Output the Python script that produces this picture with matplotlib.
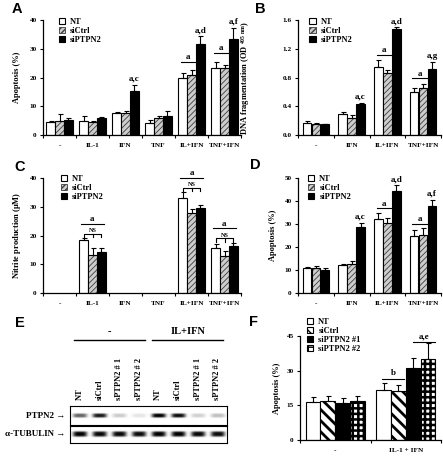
import numpy as np
import matplotlib
matplotlib.use('Agg')
import matplotlib.pyplot as plt
from matplotlib.patches import Patch

plt.rcParams['font.family'] = ['Liberation Serif', 'DejaVu Serif']
plt.rcParams['font.weight'] = 'bold'
plt.rcParams['mathtext.fontset'] = 'custom'
plt.rcParams['mathtext.rm'] = 'Liberation Serif:bold'
plt.rcParams['mathtext.it'] = 'Liberation Serif:bold'
plt.rcParams['axes.linewidth'] = 0.9

W, H = 443, 458

# ---- data ----
a_groups = ['-', 'IL-1', 'IFN', 'TNF', 'IL+IFN', 'TNF+IFN']
a_nt = [4.5, 4.8, 7.8, 4.2, 20.0, 23.3]
a_nt_err = [0.3, 1.7, 0.2, 1.0, 1.5, 2.2]
a_ctrl = [4.9, 4.5, 7.8, 5.8, 21.0, 23.3]
a_ctrl_err = [2.3, 0.2, 0.6, 0.9, 1.5, 1.2]
a_kd = [5.3, 5.8, 15.2, 6.7, 31.7, 33.5]
a_kd_err = [0.6, 0.4, 2.3, 1.5, 2.7, 3.8]

b_groups = ['-', 'IFN', 'IL+IFN', 'TNF+IFN']
b_nt = [0.17, 0.29, 0.94, 0.60]
b_nt_err = [0.03, 0.03, 0.10, 0.05]
b_ctrl = [0.15, 0.23, 0.86, 0.66]
b_ctrl_err = [0.02, 0.05, 0.04, 0.05]
b_kd = [0.15, 0.43, 1.47, 0.92]
b_kd_err = [0.01, 0.02, 0.03, 0.09]

c_groups = ['-', 'IL-1', 'IFN', 'TNF', 'IL+IFN', 'TNF+IFN']
c_nt = [np.nan, 18.3, np.nan, np.nan, 33.0, 15.5]
c_nt_err = [np.nan, 0.7, np.nan, np.nan, 2.0, 1.4]
c_ctrl = [np.nan, 13.2, np.nan, np.nan, 27.8, 13.0]
c_ctrl_err = [np.nan, 2.3, np.nan, np.nan, 1.4, 1.6]
c_kd = [np.nan, 14.3, np.nan, np.nan, 29.7, 16.5]
c_kd_err = [np.nan, 1.5, np.nan, np.nan, 1.0, 0.9]

d_groups = ['-', 'IFN', 'IL+IFN', 'TNF+IFN']
d_nt = [10.7, 12.3, 32.0, 25.0]
d_nt_err = [0.7, 0.3, 2.8, 2.5]
d_ctrl = [10.7, 12.4, 30.6, 25.4]
d_ctrl_err = [1.1, 1.3, 2.2, 2.7]
d_kd = [10.0, 28.7, 44.5, 37.9]
d_kd_err = [1.0, 1.8, 2.3, 2.6]

f_groups = ['-', 'IL-1 + IFN']
f_nt = [16.5, 21.8]
f_nt_err = [2.3, 3.0]
f_ctrl = [17.0, 21.0]
f_ctrl_err = [2.2, 3.0]
f_kd1 = [16.0, 31.3]
f_kd1_err = [2.2, 4.2]
f_kd2 = [17.0, 35.0]
f_kd2_err = [2.2, 7.0]

blot_lanes = ['NT', 'siCtrl', 'sPTPN2 # 1', 'sPTPN2 # 2',
              'NT', 'siCtrl', 'sPTPN2 # 1', 'sPTPN2 # 2']
blot_treat = ['-', 'IL+IFN']
ptpn2_band = [0.6, 0.9, 0.2, 0.1, 1.0, 0.95, 0.18, 0.25]
tubulin_band = [1.0, 0.97, 0.97, 0.95, 1.0, 1.0, 0.97, 0.95]

# annotations: (group, kind, text)
a_marks = [(2, 'top', 'a,c'), (4, 'pair', 'a'), (4, 'top', 'a,d'),
           (5, 'pair', 'a'), (5, 'top', 'a,f')]
b_marks = [(1, 'top', 'a,c'), (2, 'pair', 'a'), (2, 'top', 'a,d'),
           (3, 'pair', 'a'), (3, 'top', 'a,g')]
c_marks = [(1, 'ns', 'a'), (4, 'ns', 'a'), (5, 'ns', 'a')]
d_marks = [(1, 'top', 'a,c'), (2, 'pair', 'a'), (2, 'top', 'a,d'),
           (3, 'pair', 'a'), (3, 'top', 'a,f')]

GRAYF, GRAYH = '#cdcdcd', '#3c3c3c'

fig = plt.figure(figsize=(W / 100, H / 100), dpi=100)


def px_axes(x0, y0, x1, y1):
    return fig.add_axes([x0 / W, 1 - y1 / H, (x1 - x0) / W, (y1 - y0) / H])


def draw_bar(ax, x, v, w, style):
    if style == 'white':
        ax.bar(x, v, w, facecolor='white', edgecolor='k', linewidth=0.8, zorder=2)
    elif style == 'black':
        ax.bar(x, v, w, facecolor='k', edgecolor='k', linewidth=0.8, zorder=2)
    else:
        if style == 'gray':
            fc, hc, hatch, hlw = GRAYF, GRAYH, '//////', 0.6
        elif style == 'diag':
            fc, hc, hatch, hlw = 'white', 'k', '\\\\\\', 2.0
        else:
            fc, hc, hatch, hlw = 'white', 'k', '+++', 1.8
        bars = ax.bar(x, v, w, facecolor=fc, edgecolor=hc, hatch=hatch,
                      linewidth=0, zorder=2)
        for b in bars:
            if hasattr(b, 'set_hatch_linewidth'):
                b.set_hatch_linewidth(hlw)
        ax.bar(x, v, w, fill=False, edgecolor='k', linewidth=0.8, zorder=3)


def bar_panel(box, groups, series, styles, width, offsets, ylim, yticks, yfmt):
    ax = px_axes(*box)
    n = len(groups)
    centers = np.arange(n) + 0.5
    tops = []
    for (v, e), st, off in zip(series, styles, offsets):
        v = np.asarray(v, float)
        e = np.asarray(e, float)
        ok = ~np.isnan(v)
        x = centers + off
        draw_bar(ax, x[ok], v[ok], width, st)
        ax.errorbar(x[ok], v[ok], yerr=[np.zeros(ok.sum()), e[ok]], fmt='none',
                    ecolor='k', elinewidth=0.8, capsize=1.8, capthick=0.8, zorder=4)
        tops.append(v + e)
    ax.set_xlim(0, n)
    ax.set_ylim(*ylim)
    ax.set_yticks(yticks)
    ax.set_yticklabels([yfmt.format(t) for t in yticks])
    ax.set_xticks(np.arange(n + 1))
    ax.set_xticklabels([])
    ax.set_xticks(centers, minor=True)
    ax.set_xticklabels(groups, minor=True)
    ax.tick_params(axis='x', which='minor', length=0, pad=6, labelsize=5.2)
    ax.tick_params(axis='x', which='major', length=2.5, width=0.8)
    ax.tick_params(axis='y', length=2.5, width=0.8, pad=2, labelsize=5.2)
    ax.spines['top'].set_visible(False)
    ax.spines['right'].set_visible(False)
    return ax, centers, np.array(tops)


def annotate(ax, centers, offsets, width, tops, marks, dy):
    for g, kind, txt in marks:
        if kind == 'top':
            ax.annotate(txt, (centers[g] + offsets[-1], tops[-1][g]), xytext=(0, 1.5),
                        textcoords='offset points', ha='center', va='bottom',
                        fontsize=6.5, annotation_clip=False)
        elif kind == 'pair':
            y = max(tops[0][g], tops[1][g]) + dy
            x0 = centers[g] + offsets[0] - width * 0.2
            x1 = centers[g] + offsets[1] + width * 0.5
            ax.plot([x0, x1], [y, y], color='k', lw=0.8, clip_on=False)
            ax.annotate(txt, ((x0 + x1) / 2, y), xytext=(0, 0.5),
                        textcoords='offset points', ha='center', va='bottom',
                        fontsize=6.5, annotation_clip=False)
        else:
            xs = [centers[g] + o for o in offsets]
            yb = max(t[g] for t in tops) + dy * 0.45
            ax.plot([xs[0], xs[0], xs[-1], xs[-1]], [yb - dy * 0.35, yb, yb, yb - dy * 0.35],
                    color='k', lw=0.8, clip_on=False)
            ax.plot([xs[1], xs[1]], [yb, yb - dy * 0.35], color='k', lw=0.8, clip_on=False)
            ax.annotate('NS', ((xs[0] + xs[-1]) / 2, yb), xytext=(0, 0.3),
                        textcoords='offset points', ha='center', va='bottom',
                        fontsize=4.5, annotation_clip=False)
            ya = yb + dy * 0.95
            ax.plot([xs[0] - width * 0.3, xs[-1] + width * 0.3], [ya, ya], color='k',
                    lw=0.8, clip_on=False)
            ax.annotate(txt, ((xs[0] + xs[-1]) / 2, ya), xytext=(0, 0.5),
                        textcoords='offset points', ha='center', va='bottom',
                        fontsize=6.5, annotation_clip=False)


def legend(ax, labels, styles, x, y):
    handles = []
    for st in styles:
        if st == 'white':
            handles.append(Patch(facecolor='white', edgecolor='k', lw=0.8))
        elif st == 'black':
            handles.append(Patch(facecolor='k', edgecolor='k', lw=0.8))
        elif st == 'gray':
            handles.append(Patch(facecolor=GRAYF, edgecolor=GRAYH, hatch='//////', lw=0.6))
        elif st == 'diag':
            handles.append(Patch(facecolor='white', edgecolor='k', hatch='\\\\\\', lw=0.8))
        else:
            handles.append(Patch(facecolor='white', edgecolor='k', hatch='+++', lw=0.8))
    ax.legend(handles, labels, loc='upper left', bbox_to_anchor=(x, y), frameon=False,
              handlelength=0.75, handleheight=0.75, handletextpad=0.6, labelspacing=0.12,
              borderpad=0, borderaxespad=0, prop={'size': 6, 'weight': 'bold'})


styles3 = ['white', 'gray', 'black']
labels3 = ['NT', 'siCtrl', 'siPTPN2']

# A
offs_a = [-0.27, 0.0, 0.27]
axA, cA, tA = bar_panel((43, 20, 241, 135), a_groups,
                        [(a_nt, a_nt_err), (a_ctrl, a_ctrl_err), (a_kd, a_kd_err)],
                        styles3, 0.25, offs_a, (0, 40), [0, 10, 20, 30, 40], '{:g}')
annotate(axA, cA, offs_a, 0.25, tA, a_marks, 3.0)
legend(axA, labels3, styles3, 0.08, 1.02)

# B
offs_b = [-0.25, 0.0, 0.25]
axB, cB, tB = bar_panel((298, 20, 441, 135), b_groups,
                        [(b_nt, b_nt_err), (b_ctrl, b_ctrl_err), (b_kd, b_kd_err)],
                        styles3, 0.24, offs_b, (0, 1.6), [0, 0.4, 0.8, 1.2, 1.6], '{:.1f}')
annotate(axB, cB, offs_b, 0.24, tB, b_marks, 0.08)
legend(axB, labels3, styles3, 0.08, 1.02)

# C
axC, cC, tC = bar_panel((43, 178, 241, 293), c_groups,
                        [(c_nt, c_nt_err), (c_ctrl, c_ctrl_err), (c_kd, c_kd_err)],
                        styles3, 0.25, offs_a, (0, 40), [0, 10, 20, 30, 40], '{:g}')
annotate(axC, cC, offs_a, 0.25, tC, c_marks, 3.6)
legend(axC, labels3, styles3, 0.09, 1.03)

# D
axD, cD, tD = bar_panel((298, 178, 441, 293), d_groups,
                        [(d_nt, d_nt_err), (d_ctrl, d_ctrl_err), (d_kd, d_kd_err)],
                        styles3, 0.24, offs_b, (0, 50), [0, 10, 20, 30, 40, 50], '{:g}')
annotate(axD, cD, offs_b, 0.24, tD, d_marks, 2.0)
legend(axD, labels3, styles3, 0.07, 1.03)

# F
offs_f = [-0.315, -0.105, 0.105, 0.315]
styles4 = ['white', 'diag', 'black', 'check']
axF, cF, tF = bar_panel((300, 336, 441, 440), f_groups,
                        [(f_nt, f_nt_err), (f_ctrl, f_ctrl_err), (f_kd1, f_kd1_err),
                         (f_kd2, f_kd2_err)],
                        styles4, 0.21, offs_f, (0, 45), [0, 15, 30, 45], '{:g}')
yb = max(tF[0][1], tF[1][1]) + 1.8
axF.plot([cF[1] + offs_f[0] - 0.02, cF[1] + offs_f[1] + 0.08], [yb, yb], color='k', lw=0.8)
axF.annotate('b', (cF[1] + (offs_f[0] + offs_f[1]) / 2 + 0.03, yb), xytext=(0, 1),
             textcoords='offset points', ha='center', va='bottom', fontsize=6.5)
ya = max(tF[2][1], tF[3][1]) + 0.5
axF.plot([cF[1] + offs_f[2], cF[1] + offs_f[3] + 0.1], [ya, ya], color='k', lw=0.8, clip_on=False)
axF.annotate('a,e', (cF[1] + (offs_f[2] + offs_f[3]) / 2 + 0.05, ya), xytext=(0, 1),
             textcoords='offset points', ha='center', va='bottom', fontsize=6.5,
             annotation_clip=False)
legend(axF, ['NT', 'siCtrl', 'siPTPN2 #1', 'siPTPN2 #2'], styles4, 0.05, 1.17)

# y labels
for (x, y, txt) in [(17, 77.5, 'Apoptosis (%)'),
                    (245, 78, r'DNA fragmentation (OD $^{405\ nm}$)'),
                    (17, 235.5, r'Nitrite production ($\mu$M)'),
                    (273, 235.5, 'Apoptosis (%)'),
                    (277, 388, 'Apoptosis (%)')]:
    fig.text(x / W, 1 - y / H, txt, rotation=90, ha='center', va='center', fontsize=6)

# panel letters
for (x, y, L) in [(17, 9, 'A'), (260, 9, 'B'), (20, 167, 'C'), (255, 165, 'D'),
                  (20, 323, 'E'), (253, 322, 'F')]:
    fig.text(x / W, 1 - y / H, L, ha='center', va='center', fontsize=10.5,
             family='Liberation Sans', weight='bold')


# E: western blot
def blot(box, inten, yw):
    ax = px_axes(*box)
    xs = np.linspace(-0.5, 7.5, 400)
    ys = np.linspace(-1, 1, 60)
    img = np.ones((ys.size, xs.size))
    for i, v in enumerate(inten):
        img -= v * np.exp(-((xs[None, :] - i) / 0.36) ** 4) * np.exp(-(ys[:, None] / yw) ** 4)
    ax.imshow(np.clip(img, 0, 1), cmap='gray', vmin=0, vmax=1, aspect='auto',
              extent=(-0.5, 7.5, -1, 1), interpolation='bilinear')
    ax.set_xticks([])
    ax.set_yticks([])
    for s in ax.spines.values():
        s.set_linewidth(0.8)
    return ax


axP = blot((70, 406, 227, 425), ptpn2_band, 0.22)
axT = blot((70, 426, 227, 443), tubulin_band, 0.3)
for i, lab in enumerate(blot_lanes):
    axP.annotate(lab, (i, 1), xycoords=('data', 'axes fraction'), xytext=(0, 4.5),
                 textcoords='offset points', rotation=90, ha='center', va='bottom',
                 fontsize=6, annotation_clip=False)
for k, t in enumerate(blot_treat):
    xl, xr = 4 * k - 0.3, 4 * k + 3.3
    axP.plot([xl, xr], [4.47, 4.47], transform=axP.get_xaxis_transform(), color='k',
             lw=1.0, clip_on=False)
    axP.text((xl + xr) / 2, 4.9, t, transform=axP.get_xaxis_transform(), ha='center',
             va='center', fontsize=7.5)
fig.text(65 / W, 1 - 416 / H, 'PTPN2 →', ha='right', va='center', fontsize=6.5)
fig.text(65 / W, 1 - 434 / H, 'α-TUBULIN →', ha='right', va='center', fontsize=6.5)

fig.savefig('out.png', dpi=100)
